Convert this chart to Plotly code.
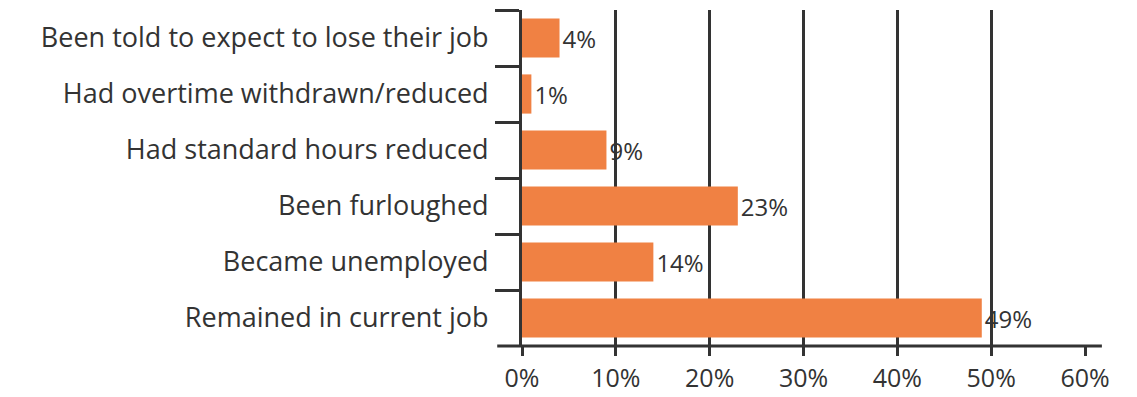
import plotly.graph_objects as go

# Employment outcomes, share of respondents (%)
categories = [
    "Been told to expect to lose their job",
    "Had overtime withdrawn/reduced",
    "Had standard hours reduced",
    "Been furloughed",
    "Became unemployed",
    "Remained in current job",
]
shares = [4, 1, 9, 23, 14, 49]
tick_values = [0, 10, 20, 30, 40, 50, 60]
tick_labels = ["0%", "10%", "20%", "30%", "40%", "50%", "60%"]

BAR = "#F08143"
INK = "#333333"
FONT = "'Open Sans', 'Noto Sans', sans-serif"

fig = go.Figure(
    go.Bar(
        x=shares,
        y=categories,
        orientation="h",
        marker=dict(color=BAR, line=dict(width=0)),
        text=[f"{v}%" for v in shares],
        textposition="outside",
        textfont=dict(family=FONT, size=24, color=INK),
        cliponaxis=False,
        hoverinfo="skip",
    )
)

fig.update_layout(
    width=1137,
    height=397,
    margin=dict(l=522, r=52, t=10, b=51),
    paper_bgcolor="white",
    plot_bgcolor="white",
    bargap=0.3,
    showlegend=False,
    font=dict(family=FONT, size=27, color=INK),
)

fig.update_xaxes(
    range=[0, 60],
    tickvals=tick_values,
    ticktext=tick_labels,
    automargin=False,
    showgrid=True,
    gridcolor=INK,
    gridwidth=3,
    zeroline=False,
    showline=False,
    ticks="outside",
    ticklen=9,
    tickwidth=3,
    tickcolor=INK,
    ticklabelstandoff=1,
    tickfont=dict(family=FONT, size=25, color=INK),
)

fig.update_yaxes(
    autorange="reversed",
    automargin=False,
    showline=True,
    linecolor=INK,
    linewidth=3,
    showgrid=False,
    ticks="outside",
    tickson="boundaries",
    ticklen=24,
    tickwidth=3,
    tickcolor=INK,
    ticklabelstandoff=25,
    tickfont=dict(family=FONT, size=27, color=INK),
)

# Baseline running slightly past both ends of the value axis
fig.add_shape(
    type="line",
    xref="paper",
    yref="paper",
    x0=-0.044,
    x1=1.03,
    y0=0,
    y1=0,
    line=dict(color=INK, width=3),
)

fig.write_html("out.html")
